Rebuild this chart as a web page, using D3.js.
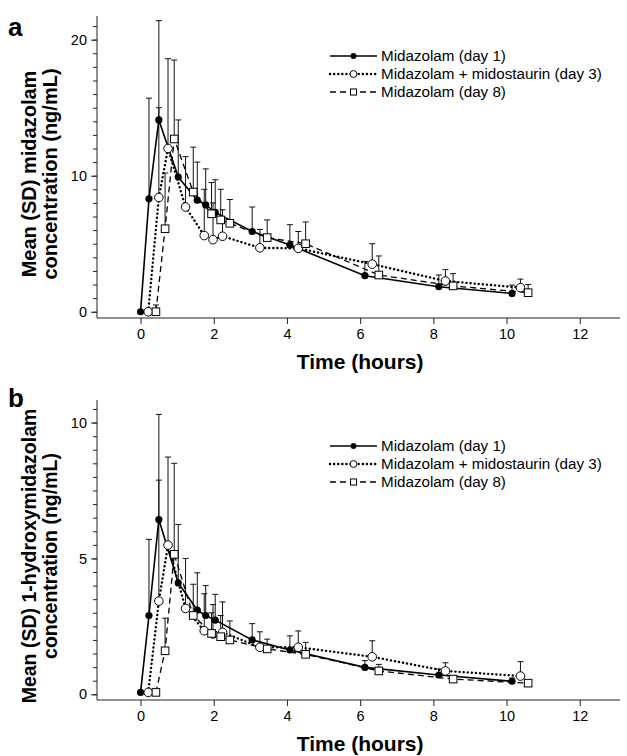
<!DOCTYPE html>
<html><head><meta charset="utf-8">
<script src="https://cdn.jsdelivr.net/npm/d3@7"></script>
<style>body{margin:0;background:#fff}svg{display:block}text{font-family:"Liberation Sans",Arial,sans-serif}</style>
</head><body>
<svg id="chart" width="627" height="756"></svg>
<script>
// ---------- data ----------
const seriesNames = ["Midazolam (day 1)", "Midazolam + midostaurin (day 3)", "Midazolam (day 8)"];
const xTicks = [0, 2, 4, 6, 8, 10, 12];
const yTicksA = [0, 10, 20];
const yTicksB = [0, 5, 10];
const xLabel = "Time (hours)";
const yLabelA = ["Mean (SD) midazolam", "concentration (ng/mL)"];
const yLabelB = ["Mean (SD) 1-hydroxymidazolam", "concentration (ng/mL)"];

// plotted times (hours, with the small horizontal offset used in the figure)
const timeDay1 = [0, 0.23, 0.5, 1.03, 1.55, 1.78, 2.04, 3.05, 4.08, 6.13, 8.15, 10.15];
const timeDay3 = [0.21, 0.5, 0.75, 1.23, 1.74, 1.98, 2.24, 3.26, 4.31, 6.33, 8.33, 10.38];
const timeDay8 = [0.42, 0.67, 0.92, 1.44, 1.94, 2.19, 2.44, 3.46, 4.51, 6.51, 8.54, 10.59];

// panel a: midazolam (ng/mL)
const meanDay1A = [0, 8.3, 14.1, 9.9, 8.2, 7.85, 7.3, 5.9, 4.9, 2.65, 1.84, 1.35];
const upperDay1A = [0, 15.7, 21.4, 14.1, 11.0, 10.5, 9.7, 7.7, 6.4, 3.7, 2.7, 1.96];
const meanDay3A = [0, 8.4, 12.0, 7.7, 5.6, 5.3, 5.55, 4.7, 4.66, 3.5, 2.26, 1.77];
const upperDay3A = [0.2, 15.0, 18.6, 11.4, 9.0, 8.0, 7.5, 6.05, 5.9, 5.0, 3.1, 2.4];
const meanDay8A = [0, 6.1, 12.7, 8.8, 7.2, 6.75, 6.5, 5.45, 5.0, 2.7, 1.9, 1.4];
const upperDay8A = [0.5, 10.2, 18.5, 12.1, 9.5, 9.0, 8.25, 6.75, 6.6, 4.1, 2.8, 2.0];

// panel b: 1-hydroxymidazolam (ng/mL)
const meanDay1B = [0.07, 2.9, 6.43, 4.1, 3.1, 2.9, 2.73, 2.0, 1.63, 0.99, 0.71, 0.48];
const upperDay1B = [0.07, 5.7, 10.3, 6.25, 4.47, 4.0, 3.68, 2.6, 2.15, 1.24, 0.93, 0.6];
const meanDay3B = [0.07, 3.43, 5.49, 3.16, 2.34, 2.22, 2.28, 1.73, 1.73, 1.38, 0.86, 0.67];
const upperDay3B = [0.1, 7.88, 8.73, 5.0, 3.7, 3.3, 3.4, 2.3, 2.33, 1.97, 1.16, 1.2];
const meanDay8B = [0.07, 1.6, 5.15, 2.9, 2.24, 2.12, 2.0, 1.67, 1.47, 0.86, 0.56, 0.41];
const upperDay8B = [0.1, 2.8, 8.5, 4.05, 3.0, 2.9, 2.7, 2.03, 1.91, 1.1, 0.65, 0.5];

// ---------- drawing ----------
const svg = d3.select("#chart");
const styles = [
  {dash: null, width: 1.6, marker: "filled"},
  {dash: "0.1,4", width: 2.4, marker: "circle", cap: "round"},
  {dash: "6,4", width: 1.3, marker: "square"}
];

function drawMarker(g, kind, cx, cy, sc) {
  sc = sc || 1;
  if (kind === "filled") {
    g.append("circle").attr("cx", cx).attr("cy", cy).attr("r", 3.6 * sc).attr("fill", "#000");
  } else if (kind === "circle") {
    g.append("circle").attr("cx", cx).attr("cy", cy).attr("r", 4.3 * sc)
      .attr("fill", "#fff").attr("stroke", "#000").attr("stroke-width", 1);
  } else {
    const h = 3.8 * sc;
    g.append("rect").attr("x", cx - h).attr("y", cy - h).attr("width", 2 * h).attr("height", 2 * h)
      .attr("fill", "#fff").attr("stroke", "#000").attr("stroke-width", 1);
  }
}

function drawPanel(p) {
  const g = svg.append("g");
  const x = d3.scaleLinear().domain([-1.19, 13.1]).range([97, 620]);
  const y = d3.scaleLinear().domain(p.yDomain).range([p.yBottom, p.yTop]);

  // y axis with minor ticks
  const yAxisMinor = d3.axisLeft(y).tickValues(d3.range(0, p.yDomain[1], p.minorStep)).tickSize(4).tickFormat("");
  g.append("g").attr("transform", "translate(97,0)").call(yAxisMinor)
    .call(s => s.select(".domain").remove())
    .call(s => s.selectAll("line").attr("stroke", "#222"));
  const yAxis = d3.axisLeft(y).tickValues(p.yTicks).tickSize(6).tickPadding(4);
  g.append("g").attr("transform", "translate(97,0)").call(yAxis)
    .call(s => s.select(".domain").attr("stroke", "#222").attr("d", `M0,${p.yTop}V${p.yBottom}`))
    .call(s => s.selectAll("line").attr("stroke", "#222"))
    .call(s => s.selectAll("text").attr("font-size", 14.5).attr("fill", "#000")
      .attr("font-family", "'Liberation Sans',Arial,sans-serif"));

  // x axis
  const xAxis = d3.axisBottom(x).tickValues(xTicks).tickSize(6).tickPadding(5);
  g.append("g").attr("transform", `translate(0,${p.yBottom})`).call(xAxis)
    .call(s => s.select(".domain").attr("stroke", "#222").attr("d", `M97,0H620`))
    .call(s => s.selectAll("line").attr("stroke", "#222"))
    .call(s => s.selectAll("text").attr("font-size", 14.5).attr("fill", "#000")
      .attr("font-family", "'Liberation Sans',Arial,sans-serif"));

  // x title
  g.append("text").attr("x", (x(0) + x(12)) / 2).attr("y", p.yBottom + 51)
    .attr("text-anchor", "middle").attr("font-size", 21).attr("font-weight", "bold").text(xLabel);

  // y title
  const yt = g.append("text").attr("transform", `translate(0,${p.yTitleCenter}) rotate(-90)`)
    .attr("text-anchor", "middle").attr("font-size", p.yTitleSize).attr("font-weight", "bold");
  yt.append("tspan").attr("x", 0).attr("y", 36).text(p.yLabel[0]);
  yt.append("tspan").attr("x", 0).attr("y", 57).text(p.yLabel[1]);

  // panel letter
  g.append("text").attr("x", 8).attr("y", p.letterY).attr("font-size", 26)
    .attr("font-weight", "bold").text(p.letter);

  const series = p.series;
  // error bars
  series.forEach(s => {
    s.t.forEach((t, i) => {
      const cx = x(t), y0 = y(s.mean[i]), y1 = y(s.upper[i]);
      if (y0 - y1 < 1) return;
      g.append("line").attr("x1", cx).attr("x2", cx).attr("y1", y0).attr("y2", y1)
        .attr("stroke", "#111").attr("stroke-width", 1);
      g.append("line").attr("x1", cx - 3).attr("x2", cx + 3).attr("y1", y1).attr("y2", y1)
        .attr("stroke", "#111").attr("stroke-width", 1);
    });
  });
  // lines
  series.forEach((s, k) => {
    const st = styles[k];
    const line = d3.line().x(d => x(d[0])).y(d => y(d[1]));
    g.append("path").datum(s.t.map((t, i) => [t, s.mean[i]]))
      .attr("d", line).attr("fill", "none").attr("stroke", "#000")
      .attr("stroke-width", st.width)
      .attr("stroke-dasharray", st.dash)
      .attr("stroke-linecap", st.cap || "butt");
  });
  // markers
  series.forEach((s, k) => {
    s.t.forEach((t, i) => drawMarker(g, styles[k].marker, x(t), y(s.mean[i])));
  });

  // legend
  seriesNames.forEach((name, k) => {
    const ly = p.legendY + k * 18;
    const st = styles[k];
    g.append("line").attr("x1", 330).attr("x2", 377).attr("y1", ly).attr("y2", ly)
      .attr("stroke", "#000").attr("stroke-width", st.width)
      .attr("stroke-dasharray", st.dash).attr("stroke-linecap", st.cap || "butt");
    drawMarker(g, st.marker, 353.5, ly, 0.8);
    g.append("text").attr("x", 381).attr("y", ly).attr("dy", "0.35em")
      .attr("font-size", 15.2).text(name);
  });
}

drawPanel({
  letter: "a", letterY: 36,
  yDomain: [-0.46, 21.74], yTop: 16, yBottom: 318, yTicks: yTicksA, minorStep: 1,
  yLabel: yLabelA, yTitleCenter: 174, yTitleSize: 20, legendY: 56,
  series: [
    {t: timeDay1, mean: meanDay1A, upper: upperDay1A},
    {t: timeDay3, mean: meanDay3A, upper: upperDay3A},
    {t: timeDay8, mean: meanDay8A, upper: upperDay8A}
  ]
});
drawPanel({
  letter: "b", letterY: 407,
  yDomain: [-0.21, 10.83], yTop: 400, yBottom: 700, yTicks: yTicksB, minorStep: 0.5,
  yLabel: yLabelB, yTitleCenter: 556, yTitleSize: 19.5, legendY: 446,
  series: [
    {t: timeDay1, mean: meanDay1B, upper: upperDay1B},
    {t: timeDay3, mean: meanDay3B, upper: upperDay3B},
    {t: timeDay8, mean: meanDay8B, upper: upperDay8B}
  ]
});
</script>
</body></html>
